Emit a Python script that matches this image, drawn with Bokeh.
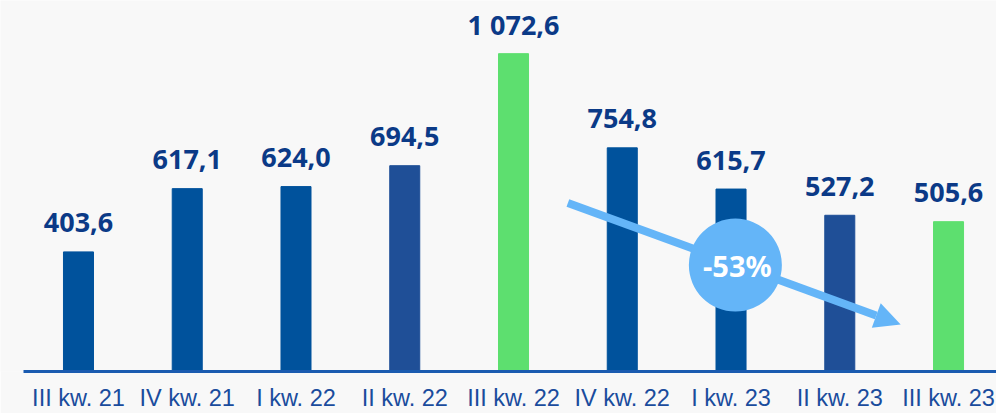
from bokeh.plotting import figure
from bokeh.models import ColumnDataSource, Range1d, FixedTicker, Arrow, NormalHead
from bokeh.core.properties import value
from bokeh.embed import file_html
from bokeh.resources import INLINE

# ---- data ----
quarters = ["III kw. 21", "IV kw. 21", "I kw. 22", "II kw. 22", "III kw. 22",
            "IV kw. 22", "I kw. 23", "II kw. 23", "III kw. 23"]
values = [403.6, 617.1, 624.0, 694.5, 1072.6, 754.8, 615.7, 527.2, 505.6]
value_labels = ["403,6", "617,1", "624,0", "694,5", "1 072,6", "754,8", "615,7", "527,2", "505,6"]
change_label = "-53%"
# trend arrow (data coordinates: category index, value)
arrow_start = (4.50, 569.0)
arrow_end = (7.56, 159.0)
badge_pos = (6.04, 359.0)

# ---- styles ----
BG = "#f8f8f8"
NAVY = "#00529c"
NAVY2 = "#1f4f97"
GREEN = "#5ddf6f"
LIGHT = "#64b5f8"
TEXT = "#0b3a87"
bar_colors = [NAVY, NAVY, NAVY, NAVY2, GREEN, NAVY, NAVY, NAVY2, GREEN]

xs = list(range(len(quarters)))
src = ColumnDataSource(dict(x=xs, top=values, color=bar_colors, lab=value_labels))

p = figure(width=996, height=413, output_backend="svg", toolbar_location=None,
           x_range=Range1d(-0.717, 8.441), y_range=Range1d(0, 1252),
           min_border_left=0, min_border_right=0, min_border_top=0, min_border_bottom=40)
p.background_fill_color = BG
p.border_fill_color = BG
p.outline_line_color = None
p.grid.visible = False
p.yaxis.visible = False

p.vbar(x="x", top="top", bottom=0, width=0.276, color="color", source=src)

p.text(x="x", y="top", text="lab", source=src, y_offset=-29,
       text_align="center", text_baseline="alphabetic",
       text_font=value("Noto Sans"), text_font_style="bold",
       text_font_size="27px", text_color=TEXT)

ax = p.xaxis[0]
ax.ticker = FixedTicker(ticks=xs)
ax.major_label_overrides = {i: q for i, q in enumerate(quarters)}
ax.major_tick_line_color = None
ax.minor_tick_line_color = None
ax.major_tick_out = 0
ax.axis_line_color = "#1a5bb0"
ax.axis_line_width = 3
ax.bounds = (-0.506, 8.5)
ax.major_label_standoff = 13
ax.major_label_text_font = "Liberation Sans"
ax.major_label_text_font_size = "23.5px"
ax.major_label_text_color = "#1a4c9d"

p.add_layout(Arrow(end=NormalHead(size=26, fill_color=LIGHT, line_color=LIGHT, line_width=0),
                   x_start=arrow_start[0], y_start=arrow_start[1],
                   x_end=arrow_end[0], y_end=arrow_end[1],
                   line_color=LIGHT, line_width=8))

badge = p.scatter(x=[badge_pos[0]], y=[badge_pos[1]], marker="circle", size=93,
                  fill_color=LIGHT, line_color=None)
badge.level = "overlay"
badge_txt = p.text(x=[badge_pos[0]], y=[badge_pos[1]], text=[change_label],
                   text_align="center", text_baseline="middle", x_offset=2,
                   text_font=value("Noto Sans"), text_font_style="bold",
                   text_font_size="29px", text_color="white")
badge_txt.level = "overlay"

open("out.html", "w").write(file_html(p, INLINE))
